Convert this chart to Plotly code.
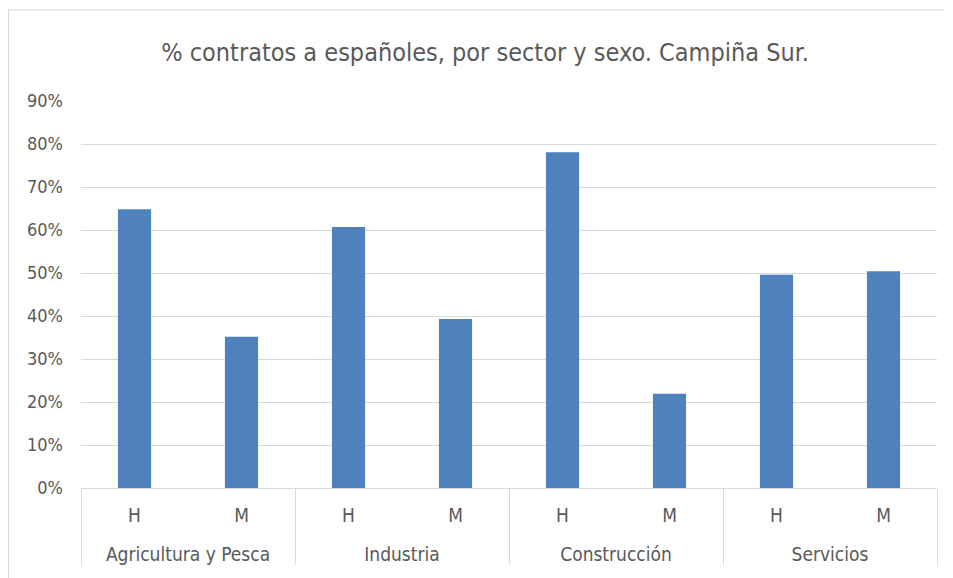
import plotly.graph_objects as go

sectors = ["Agricultura y Pesca", "Industria", "Construcción", "Servicios"]
sexes = ["H", "M"]
values = [0.648, 0.352, 0.607, 0.393, 0.781, 0.219, 0.496, 0.504]

x_sector = ["<br>" + s for s in sectors for _ in sexes]
x_sex = [g for _ in sectors for g in sexes]

FONT = "Liberation Sans Narrow, Arial Narrow, DejaVu Sans Condensed, sans-serif"
GREY = "#595959"

W, H = 945, 570
L, R, T, B = 73, 16, 93, 90
pw, ph = W - L - R, H - T - B

fig = go.Figure(go.Bar(
    x=[x_sector, x_sex],
    y=values,
    marker=dict(color="#4f81bd", line=dict(width=0)),
    hoverinfo="y",
))

fig.update_layout(
    width=W, height=H,
    margin=dict(l=L, r=R, t=T, b=B),
    paper_bgcolor="white", plot_bgcolor="white",
    bargap=0.69,
    showlegend=False,
    font=dict(family=FONT, color=GREY, size=18),
    title=dict(text="% contratos a españoles, por sector y sexo. Campiña Sur.",
               x=(485 - 8) / W, xanchor="center", y=1 - 44 / H, yanchor="middle",
               font=dict(family=FONT, size=25, color=GREY)),
    yaxis=dict(range=[0, 0.9], dtick=0.1, tickformat=".0%",
               gridcolor="#d9d9d9", gridwidth=1, zeroline=False,
               showline=False, ticks="", ticklabelstandoff=17,
               tickfont=dict(size=18, color=GREY)),
    xaxis=dict(type="multicategory", showline=True, linecolor="#d9d9d9", linewidth=1,
               showdividers=True, dividercolor="#d9d9d9", dividerwidth=1,
               ticks="", ticklabelstandoff=10, tickfont=dict(size=19, color=GREY)),
    shapes=[
        dict(type="line", xref="paper", yref="paper",
             x0=-L / pw, x1=-L / pw, y0=-B / ph, y1=(ph + T - 2) / ph,
             line=dict(color="#d9d9d9", width=2)),
        dict(type="line", xref="paper", yref="paper",
             x0=-L / pw, x1=(W - L + 20) / pw, y0=(ph + T - 2) / ph, y1=(ph + T - 2) / ph,
             line=dict(color="#d9d9d9", width=1)),
    ],
)

fig.write_html("out.html")
